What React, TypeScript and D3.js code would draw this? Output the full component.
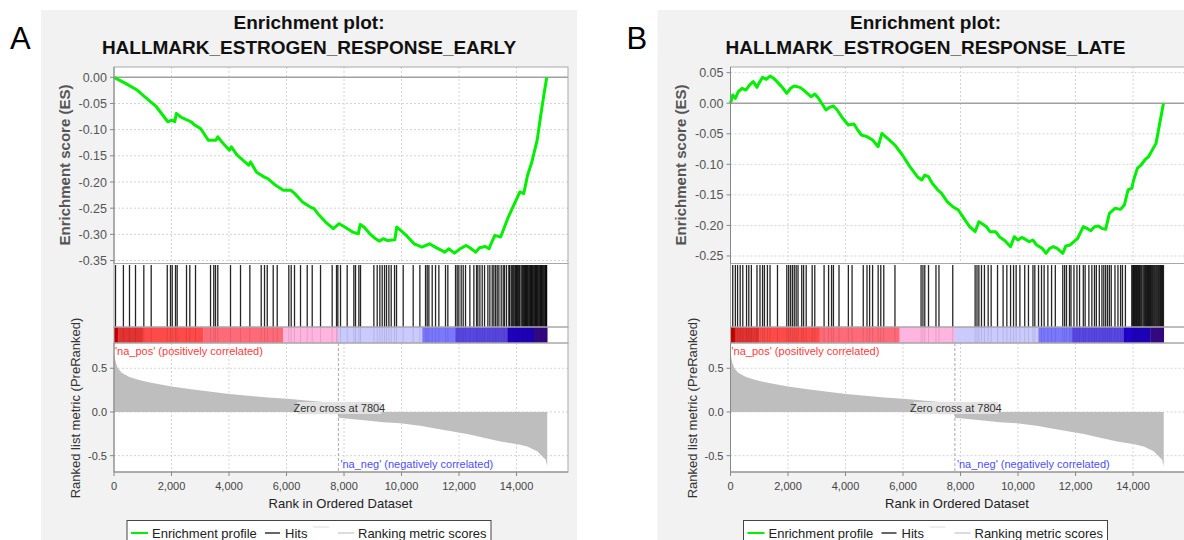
import React from "react";
import * as d3 from "d3";

// ---------- data ----------
const xTicks = [0, 2000, 4000, 6000, 8000, 10000, 12000, 14000];
const esTicksA = [0, -0.05, -0.1, -0.15, -0.2, -0.25, -0.3, -0.35];
const esTicksB = [0.05, 0, -0.05, -0.1, -0.15, -0.2, -0.25];
const metricTicks = [0.5, 0, -0.5];
const zeroCross = 7804;

const titleA = "HALLMARK_ESTROGEN_RESPONSE_EARLY";
const titleB = "HALLMARK_ESTROGEN_RESPONSE_LATE";

const esCurveA: [number, number][] = [
  [0, 0], [401, -0.0115], [803, -0.0243], [1204, -0.0434], [1472, -0.0562], [1873, -0.0849],
  [2007, -0.0817], [2114, -0.0849], [2168, -0.069], [2342, -0.0766], [2676, -0.0849], [2810, -0.0913],
  [3011, -0.0977], [3278, -0.12], [3546, -0.12], [3613, -0.1137], [3746, -0.1232], [4014, -0.1392],
  [4081, -0.1328], [4282, -0.1488], [4683, -0.1679], [4750, -0.1616], [4951, -0.1807], [5218, -0.1903],
  [5352, -0.1935], [5620, -0.2063], [5887, -0.2158], [6155, -0.2158], [6289, -0.2222], [6556, -0.2382],
  [6824, -0.2478], [6958, -0.251], [7091, -0.2605], [7359, -0.2765], [7627, -0.2893], [7827, -0.2797],
  [8028, -0.2861], [8296, -0.2957], [8496, -0.2989], [8563, -0.281], [8697, -0.2861], [8898, -0.2989],
  [9098, -0.3084], [9232, -0.3129], [9366, -0.3084], [9500, -0.3116], [9767, -0.3103], [9834, -0.2861],
  [9968, -0.2925], [10169, -0.302], [10436, -0.318], [10570, -0.3212], [10704, -0.3244], [10972, -0.318],
  [11172, -0.3244], [11507, -0.334], [11641, -0.3276], [11841, -0.3359], [12042, -0.3276], [12243, -0.3212],
  [12377, -0.3257], [12577, -0.334], [12711, -0.3257], [12912, -0.3231], [13046, -0.3276], [13112, -0.318],
  [13246, -0.302], [13447, -0.3052], [13581, -0.2861], [13715, -0.2669], [13848, -0.251], [13982, -0.235],
  [14116, -0.219], [14249, -0.2222], [14384, -0.1871], [14517, -0.1648], [14718, -0.12], [14852, -0.069],
  [14959, -0.0307], [15053, 0],
];

const esCurveB: [number, number][] = [
  [0, 0], [78, 0.0134], [169, 0.008], [272, 0.0189], [402, 0.0244], [532, 0.0216], [661, 0.0298],
  [791, 0.0353], [921, 0.026], [986, 0.0325], [1115, 0.0424], [1245, 0.0391], [1375, 0.0445], [1505, 0.0407],
  [1673, 0.0325], [1829, 0.0244], [1958, 0.0162], [2088, 0.0244], [2218, 0.0282], [2412, 0.026],
  [2542, 0.0216], [2672, 0.0162], [2802, 0.0107], [2931, 0.0151], [3061, 0.008], [3191, -0.0013],
  [3320, -0.0111], [3450, -0.0067], [3580, -0.0046], [3710, -0.0111], [3904, -0.0247], [4099, -0.0357],
  [4293, -0.034], [4423, -0.0438], [4553, -0.052], [4747, -0.0547], [4942, -0.0602], [5136, -0.0711],
  [5266, -0.0493], [5460, -0.0575], [5720, -0.0684], [5979, -0.0847], [6238, -0.1038], [6498, -0.1202],
  [6654, -0.1257], [6757, -0.1175], [6887, -0.1202], [7017, -0.1311], [7211, -0.142], [7341, -0.1475],
  [7536, -0.1611], [7730, -0.1693], [7925, -0.1748], [8119, -0.1884], [8314, -0.202], [8508, -0.2102],
  [8638, -0.1939], [8768, -0.1977], [8897, -0.202], [9027, -0.2102], [9222, -0.2102], [9351, -0.2184],
  [9546, -0.225], [9740, -0.2348], [9870, -0.2184], [10000, -0.2239], [10130, -0.2195], [10259, -0.2228],
  [10389, -0.2266], [10519, -0.2239], [10648, -0.232], [10843, -0.2375], [10973, -0.2457], [11102, -0.2375],
  [11232, -0.2348], [11362, -0.2375], [11556, -0.2457], [11660, -0.2337], [11816, -0.232], [11945, -0.2266],
  [12075, -0.2211], [12270, -0.202], [12399, -0.2048], [12529, -0.2086], [12659, -0.202], [12788, -0.201],
  [12918, -0.2048], [13048, -0.2064], [13178, -0.1802], [13372, -0.172], [13567, -0.1737], [13697, -0.1666],
  [13826, -0.142], [13956, -0.1393], [14021, -0.1257], [14150, -0.1066], [14280, -0.1011], [14410, -0.0929],
  [14539, -0.0875], [14669, -0.0766], [14799, -0.0657], [14864, -0.0493], [14929, -0.0329], [14994, -0.0166],
  [15058, 0],
];

const hitsA = [
  52, 327, 539, 748, 1037, 1294, 1852, 1965, 2025, 2139, 2197, 2522, 2637, 2835, 3357, 3470, 3530, 3610,
  4052, 4400, 4725, 5120, 5235, 5330, 5537, 5677, 6080, 6163, 6278, 6487, 6720, 6894, 7183, 7588, 7739,
  7785, 7878, 8110, 8342, 8400, 8516, 8574, 9038, 9154, 9247, 9328, 9409, 9478, 9560, 9641, 9757, 9826,
  10058, 10406, 10638, 10835, 10893, 10951, 11067, 11183, 11299, 11530, 11611, 11878, 11936, 11994, 12075,
  12145, 12226, 12377, 12516, 12609, 12655, 12725, 12806, 12887, 13003, 13072, 13154, 13211, 13270, 13328,
  13386, 13467, 13537, 13583, 13652, 13733, 13760, 13815, 13850, 13885, 13920, 13965, 13995, 14024, 14050,
  14080, 14110, 14160, 14199, 14230, 14257, 14285, 14315, 14345, 14373, 14400, 14431, 14460, 14490, 14520,
  14548, 14575, 14606, 14635, 14664, 14690, 14722, 14750, 14780, 14810, 14838, 14865, 14896, 14925, 14954,
  14985, 15012, 15030, 15046,
];

const hitsB = [
  78, 169, 246, 337, 428, 558, 636, 726, 921, 1025, 1115, 1180, 1284, 1375, 1634, 1958, 2023, 2088, 2153,
  2218, 2283, 2348, 2477, 2542, 2633, 2840, 2931, 3255, 3411, 3515, 3580, 3774, 4099, 4228, 4617, 4747,
  4838, 4942, 5136, 5227, 5331, 5720, 6628, 6693, 6757, 6887, 7146, 7250, 7730, 8508, 8573, 8638, 8729,
  8832, 8962, 9066, 9287, 9481, 9611, 9740, 9844, 9935, 10065, 10233, 10363, 10519, 10584, 10713, 10817,
  10908, 11038, 11167, 11297, 11556, 11621, 11686, 11790, 11842, 11945, 12049, 12140, 12270, 12334, 12464,
  12568, 12659, 12724, 12827, 12918, 12983, 13048, 13113, 13178, 13242, 13372, 13476, 13567, 13632, 13735,
  13956, 13990, 14021, 14050, 14086, 14120, 14150, 14190, 14220, 14254, 14300, 14345, 14380, 14410, 14440,
  14475, 14505, 14539, 14570, 14604, 14635, 14669, 14700, 14734, 14765, 14799, 14830, 14864, 14895, 14929,
  14960, 14994, 15025, 15058,
];

const colorBandStarts = [0, 150, 1000, 3100, 5880, 7800, 10720, 11880, 13680, 14600];
const colorBandEnds = [150, 1000, 3100, 5880, 7800, 10720, 11880, 13680, 14600, 15068];
const colorBandColors = [
  "#c80000", "#e33232", "#ff4a4a", "#ff6a78", "#ffb5df", "#cbcaff", "#7b78ff", "#5a48e6", "#2200cc", "#3a0a90",
];

const metricPos: [number, number][] = [
  [0, 0.66], [67, 0.56], [134, 0.5], [268, 0.45], [535, 0.4], [937, 0.36], [1338, 0.33], [2007, 0.29],
  [2676, 0.26], [4014, 0.205], [5352, 0.165], [6021, 0.15], [6690, 0.13], [7803, 0.1],
];
const metricNeg: [number, number][] = [
  [7804, -0.065], [8697, -0.095], [9366, -0.118], [9965, -0.13], [10704, -0.162], [11125, -0.186],
  [12284, -0.253], [13443, -0.337], [14049, -0.37], [14372, -0.394], [14718, -0.45], [14835, -0.489],
  [15009, -0.545], [15068, -0.62],
];

const legendLabels = ["Enrichment profile", "Hits", "Ranking metric scores"];

// ---------- layout ----------
const FONT = "'Liberation Sans', Arial, sans-serif";
const PX = 114;
const PW = 454;
const X_MAX = 15790;
const ES_TOP = 67, ES_BOT = 263.5, HITS_BOT = 327, BAR_BOT = 343, MET_BOT = 472;
const PANEL_SHIFT = 616.5;

type PanelProps = {
  dx: number;
  letter: string;
  title: string;
  esCurve: [number, number][];
  hits: number[];
  esTicks: number[];
  esDomain: [number, number];
};

function Panel({ dx, letter, title, esCurve, hits, esTicks, esDomain }: PanelProps) {
  const x = d3.scaleLinear().domain([0, X_MAX]).range([PX + dx, PX + dx + PW]);
  const yEs = d3.scaleLinear().domain(esDomain).range([ES_BOT, ES_TOP]);
  const yM = d3.scaleLinear().domain([-0.687, 0.789]).range([MET_BOT, BAR_BOT]);
  const line = d3.line<[number, number]>().x((d) => x(d[0])).y((d) => yEs(d[1]));
  const area = d3
    .area<[number, number]>()
    .x((d) => x(d[0]))
    .y0(yM(0))
    .y1((d) => yM(d[1]));
  const left = PX + dx;
  const right = PX + dx + PW;
  const cx = 309 + dx;
  const fmtX = d3.format(",");
  const zx = x(zeroCross);
  const lg = left + 13;

  return (
    <g>
      <rect x={41 + dx} y={10} width={536} height={540} fill="#f2f2f2" />
      <text x={10 + dx} y={49} fontFamily={FONT} fontSize={31} fill="#000">{letter}</text>
      <text x={cx} y={29} textAnchor="middle" fontFamily={FONT} fontWeight="bold" fontSize={19} fill="#111">Enrichment plot:</text>
      <text x={cx} y={54} textAnchor="middle" fontFamily={FONT} fontWeight="bold" fontSize={19} fill="#111">{title}</text>

      {/* plot backgrounds */}
      <rect x={left} y={ES_TOP} width={PW} height={MET_BOT - ES_TOP} fill="#fff" />

      {/* grid ES */}
      {xTicks.slice(1).map((t) => (
        <line key={"gv" + t} x1={x(t)} x2={x(t)} y1={ES_TOP} y2={ES_BOT} stroke="#d4d4d4" strokeDasharray="2,2" />
      ))}
      {esTicks.filter((t) => t !== 0).map((t) => (
        <line key={"gh" + t} x1={left} x2={right} y1={yEs(t)} y2={yEs(t)} stroke="#d4d4d4" strokeDasharray="2,2" />
      ))}
      <line x1={left} x2={right} y1={yEs(0)} y2={yEs(0)} stroke="#a0a0a0" strokeWidth={1.5} />

      {/* ES curve */}
      <path d={line(esCurve) || ""} fill="none" stroke="#00f000" strokeWidth={3} strokeLinejoin="round" />

      {/* hits */}
      {hits.map((h, i) => (
        <line key={"h" + i} x1={x(h)} x2={x(h)} y1={ES_BOT + 1.5} y2={HITS_BOT} stroke="#000" strokeWidth={1.3} opacity={0.85} />
      ))}

      {/* color bar */}
      {colorBandStarts.map((s, i) => (
        <rect key={"cb" + i} x={x(s)} y={HITS_BOT} width={x(colorBandEnds[i]) - x(s) + 0.3} height={BAR_BOT - HITS_BOT} fill={colorBandColors[i]} />
      ))}
      {hits.map((h, i) => (
        <line key={"hs" + i} x1={x(h)} x2={x(h)} y1={HITS_BOT} y2={BAR_BOT} stroke="#000" strokeWidth={1} opacity={0.1} />
      ))}

      {/* metric grid */}
      {xTicks.slice(1).map((t) => (
        <line key={"mv" + t} x1={x(t)} x2={x(t)} y1={BAR_BOT} y2={MET_BOT} stroke="#d4d4d4" strokeDasharray="2,2" />
      ))}
      {metricTicks.map((t) => (
        <line key={"mh" + t} x1={left} x2={right} y1={yM(t)} y2={yM(t)} stroke="#d4d4d4" strokeDasharray="2,2" />
      ))}

      {/* metric area */}
      <path d={area(metricPos) || ""} fill="#bebebe" />
      <path d={area(metricNeg) || ""} fill="#bebebe" />

      {/* zero cross */}
      <line x1={zx} x2={zx} y1={BAR_BOT} y2={MET_BOT} stroke="#aaaaaa" strokeDasharray="3,2" />
      <rect x={zx - 41} y={402} width={84} height={12} fill="#e2e2e2" />
      <text x={zx + 1} y={411.5} textAnchor="middle" fontFamily={FONT} fontSize={11} fill="#333">Zero cross at {zeroCross}</text>

      <text x={left + 1} y={354.5} fontFamily={FONT} fontSize={11} fill="#ff3b3b">'na_pos' (positively correlated)</text>
      <text x={zx + 2} y={468} fontFamily={FONT} fontSize={11} fill="#4d4dff">'na_neg' (negatively correlated)</text>

      {/* borders */}
      <rect x={left} y={ES_TOP} width={PW} height={ES_BOT - ES_TOP} fill="none" stroke="#a8a8a8" />
      <rect x={left} y={ES_BOT} width={PW} height={HITS_BOT - ES_BOT} fill="none" stroke="#a8a8a8" />
      <rect x={left} y={HITS_BOT} width={PW} height={BAR_BOT - HITS_BOT} fill="none" stroke="#a8a8a8" />
      <rect x={left} y={BAR_BOT} width={PW} height={MET_BOT - BAR_BOT} fill="none" stroke="#a8a8a8" />

      {/* ES axis */}
      <line x1={left} x2={left} y1={ES_TOP} y2={ES_BOT} stroke="#888" />
      {esTicks.map((t) => (
        <g key={"et" + t}>
          <line x1={left - 4} x2={left} y1={yEs(t)} y2={yEs(t)} stroke="#888" />
          <text x={left - 7} y={yEs(t) + 4.5} textAnchor="end" fontFamily={FONT} fontSize={12.5} fill="#555">
            {t.toFixed(2)}
          </text>
        </g>
      ))}
      <text
        transform={`translate(${69.5 + dx},${165}) rotate(-90)`}
        textAnchor="middle"
        fontFamily={FONT}
        fontWeight="bold"
        fontSize={15}
        fill="#555"
      >
        Enrichment score (ES)
      </text>

      {/* metric axis */}
      <line x1={left} x2={left} y1={BAR_BOT} y2={MET_BOT} stroke="#888" />
      {metricTicks.map((t) => (
        <g key={"mt" + t}>
          <line x1={left - 4} x2={left} y1={yM(t)} y2={yM(t)} stroke="#888" />
          <text x={left - 7} y={yM(t) + 4} textAnchor="end" fontFamily={FONT} fontSize={11} fill="#444">
            {t.toFixed(1)}
          </text>
        </g>
      ))}
      <text
        transform={`translate(${80 + dx},${408}) rotate(-90)`}
        textAnchor="middle"
        fontFamily={FONT}
        fontSize={13}
        fill="#333"
      >
        Ranked list metric (PreRanked)
      </text>

      {/* x axis */}
      <line x1={left} x2={right} y1={MET_BOT} y2={MET_BOT} stroke="#888" />
      {xTicks.map((t) => (
        <g key={"xt" + t}>
          <line x1={x(t)} x2={x(t)} y1={MET_BOT} y2={MET_BOT + 4} stroke="#888" />
          <text x={x(t)} y={490} textAnchor="middle" fontFamily={FONT} fontSize={11} fill="#444">
            {fmtX(t)}
          </text>
        </g>
      ))}
      <text x={(left + right) / 2 - 0.5} y={508} textAnchor="middle" fontFamily={FONT} fontSize={13} fill="#222">
        Rank in Ordered Dataset
      </text>

      {/* legend */}
      <rect x={lg} y={520.5} width={364} height={30} fill="#fff" stroke="#444" />
      <line x1={lg + 4} x2={lg + 21} y1={533} y2={533} stroke="#00f000" strokeWidth={2} />
      <text x={lg + 25} y={538} fontFamily={FONT} fontSize={13} fill="#222">{legendLabels[0]}</text>
      <line x1={lg + 138} x2={lg + 153} y1={533} y2={533} stroke="#666" strokeWidth={2} />
      <text x={lg + 158} y={538} fontFamily={FONT} fontSize={13} fill="#222">{legendLabels[1]}</text>
      <line x1={lg + 186} x2={lg + 202} y1={527} y2={527} stroke="#eeeeee" strokeWidth={2} />
      <line x1={lg + 211} x2={lg + 227} y1={533} y2={533} stroke="#dcdcdc" strokeWidth={2} />
      <text x={lg + 231} y={538} fontFamily={FONT} fontSize={13} fill="#222">{legendLabels[2]}</text>
    </g>
  );
}

export default function App() {
  return (
    <svg
      width={1184}
      height={540}
      style={{ position: "fixed", left: 0, top: 0, background: "#fff" }}
    >
      <rect x={0} y={0} width={1184} height={540} fill="#fff" />
      <Panel dx={0} letter="A" title={titleA} esCurve={esCurveA} hits={hitsA} esTicks={esTicksA} esDomain={[-0.3557, 0.0197]} />
      <Panel dx={PANEL_SHIFT} letter="B" title={titleB} esCurve={esCurveB} hits={hitsB} esTicks={esTicksB} esDomain={[-0.2623, 0.0593]} />
    </svg>
  );
}
